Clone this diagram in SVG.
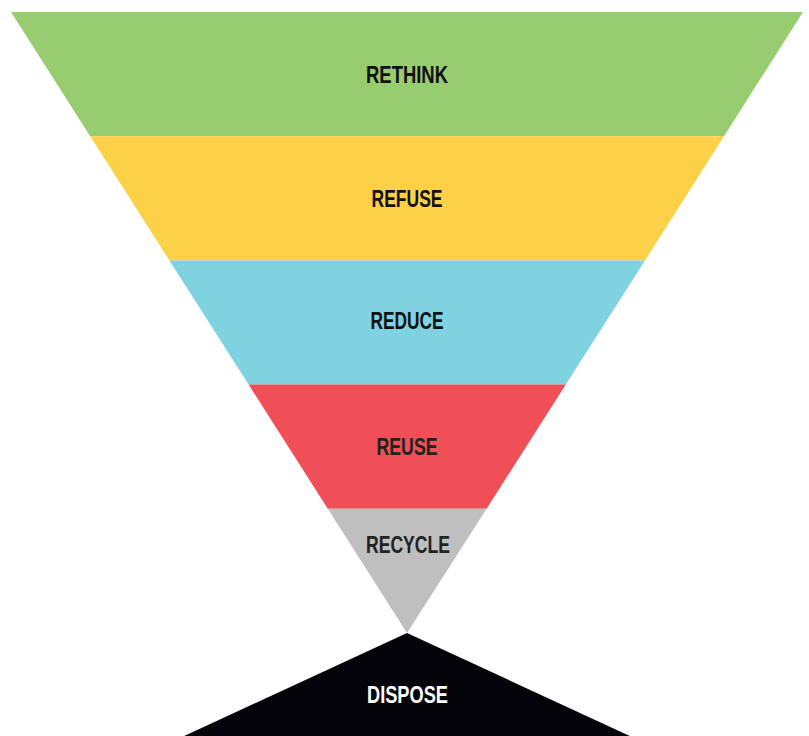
<svg xmlns="http://www.w3.org/2000/svg" width="809" height="736" viewBox="0 0 809 736">
<style>
.lbl{font-family:"Liberation Sans",Arial,sans-serif;font-weight:bold;font-size:23px;text-anchor:middle}
.dk{fill:#111}
.dk2{fill:#222}
.wt{fill:#fff}
</style>
<rect width="809" height="736" fill="#fff"/>
<g id="rethink">
<polygon points="11,12 803,12 724,136.2 90.2,136.2" fill="#97cc6f"/>
<text class="lbl dk" x="407" y="83" textLength="82" lengthAdjust="spacingAndGlyphs">RETHINK</text>
</g>
<g id="refuse">
<polygon points="90.2,136.2 724,136.2 645,260.4 169.4,260.4" fill="#fdd147"/>
<text class="lbl dk" x="407" y="207" textLength="71" lengthAdjust="spacingAndGlyphs">REFUSE</text>
</g>
<g id="reduce">
<polygon points="169.4,260.4 645,260.4 565.8,384.6 248.6,384.6" fill="#7fd2e0"/>
<text class="lbl dk" x="407" y="329" textLength="73" lengthAdjust="spacingAndGlyphs">REDUCE</text>
</g>
<g id="reuse">
<polygon points="248.6,384.6 565.8,384.6 486.6,508.8 327.8,508.8" fill="#f04f57"/>
<text class="lbl dk2" x="407" y="455" textLength="61" lengthAdjust="spacingAndGlyphs">REUSE</text>
</g>
<g id="recycle">
<polygon points="327.8,508.8 486.6,508.8 407,633" fill="#bfbfbf"/>
<text class="lbl dk2" x="408" y="553" textLength="84" lengthAdjust="spacingAndGlyphs">RECYCLE</text>
</g>
<g id="dispose">
<polygon points="407,633 632,737 182,737" fill="#04040a"/>
<text class="lbl wt" x="407.5" y="703" textLength="81" lengthAdjust="spacingAndGlyphs">DISPOSE</text>
</g>
<g id="connectors"></g>
</svg>
